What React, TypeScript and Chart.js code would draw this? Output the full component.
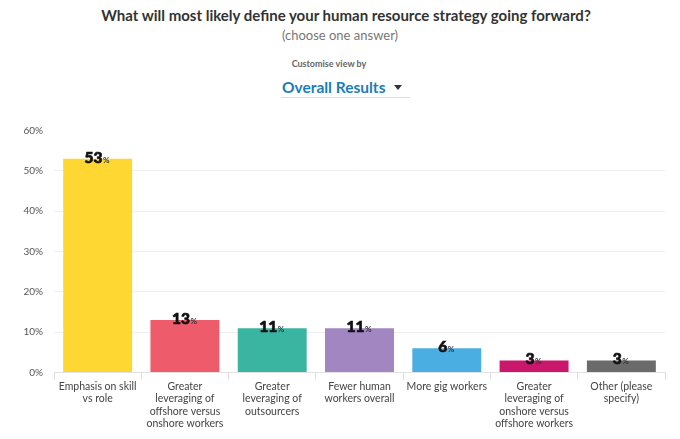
import React, { useEffect, useRef } from "react";
import { Chart, registerables } from "chart.js";

Chart.register(...registerables);

const categories: string[][] = [
  ["Emphasis on skill", "vs role"],
  ["Greater", "leveraging of", "offshore versus", "onshore workers"],
  ["Greater", "leveraging of", "outsourcers"],
  ["Fewer human", "workers overall"],
  ["More gig workers"],
  ["Greater", "leveraging of", "onshore versus", "offshore workers"],
  ["Other (please", "specify)"],
];
const values: number[] = [53, 13, 11, 11, 6, 3, 3];
const barColors: string[] = [
  "#FFD733",
  "#EE5B6A",
  "#3AB5A1",
  "#A186C1",
  "#4BAEE3",
  "#C9176B",
  "#6B6B6B",
];
const yTicks: number[] = [0, 10, 20, 30, 40, 50, 60];

const FONT = "Lato, 'Open Sans', sans-serif";

const valueLabelPlugin = {
  id: "valueLabels",
  afterDatasetsDraw(chart: any) {
    const ctx = chart.ctx;
    const meta = chart.getDatasetMeta(0);
    const data = chart.data.datasets[0].data as number[];
    meta.data.forEach((bar: any, i: number) => {
      const num = String(data[i]);
      ctx.save();
      ctx.textBaseline = "alphabetic";
      ctx.font = `900 15.5px ${FONT}`;
      const wNum = ctx.measureText(num).width;
      ctx.font = `700 8px ${FONT}`;
      const wPct = ctx.measureText("%").width;
      const total = wNum + wPct + 0.5;
      const x0 = bar.x - total / 2 - 0.5;
      const yb = bar.y + 4;
      ctx.fillStyle = "#111";
      ctx.strokeStyle = "#111";
      ctx.lineWidth = 0.7;
      ctx.font = `900 15.5px ${FONT}`;
      ctx.textAlign = "left";
      ctx.fillText(num, x0, yb);
      ctx.strokeText(num, x0, yb);
      ctx.fillStyle = "#333";
      ctx.font = `700 8px ${FONT}`;
      ctx.fillText("%", x0 + wNum + 0.5, yb);
      ctx.restore();
    });
  },
};

function BarChart() {
  const ref = useRef<HTMLCanvasElement | null>(null);
  useEffect(() => {
    if (!ref.current) return;
    const chart = new Chart(ref.current, {
      type: "bar",
      data: {
        labels: categories,
        datasets: [
          {
            data: values,
            backgroundColor: barColors,
            borderWidth: 0,
            categoryPercentage: 1,
            barPercentage: 0.79,
          },
        ],
      },
      options: {
        animation: false,
        responsive: false,
        maintainAspectRatio: false,
        devicePixelRatio: 1,
        layout: { padding: { top: 20.5, right: 15, left: 0, bottom: 0 } },
        plugins: {
          legend: { display: false },
          tooltip: { enabled: false },
          title: { display: false },
        },
        scales: {
          x: {
            offset: true,
            grid: {
              display: true,
              offset: true,
              drawOnChartArea: false,
              drawTicks: true,
              tickLength: 7,
              color: "#dcdcdc",
            },
            border: { display: true, color: "#e2e2e2" },
            ticks: {
              color: "#444",
              font: { family: FONT, size: 10.5, lineHeight: 1.17 },
              padding: 1,
              maxRotation: 0,
              autoSkip: false,
            },
            afterFit(scale: any) {
              scale.height = 66.5;
            },
          },
          y: {
            min: 0,
            max: 60,
            afterBuildTicks(scale: any) {
              scale.ticks = yTicks.map((v) => ({ value: v }));
            },
            grid: {
              drawTicks: false,
              color: (c: any) =>
                c.tick && (c.tick.value === 60 || c.tick.value === 0) ? "rgba(0,0,0,0)" : "#efefef",
              lineWidth: 1,
            },
            border: { display: false },
            ticks: {
              color: "#555",
              font: { family: FONT, size: 10 },
              padding: 11,
              callback: (v: any) => `${v}%`,
            },
            afterFit(scale: any) {
              scale.width = 54;
            },
          },
        },
      },
      plugins: [valueLabelPlugin],
    });
    return () => chart.destroy();
  }, []);
  return (
    <canvas
      ref={ref}
      width={680}
      height={329}
      style={{ position: "absolute", left: 0, top: 110, width: 680, height: 329 }}
    />
  );
}

export default function App() {
  const center: React.CSSProperties = {
    position: "absolute",
    left: 0,
    width: 680,
    textAlign: "center",
    fontFamily: FONT,
    whiteSpace: "nowrap",
  };
  return (
    <div
      style={{
        position: "fixed",
        left: 0,
        top: 0,
        width: 680,
        height: 439,
        background: "#fff",
        overflow: "hidden",
      }}
    >
      <div style={{ ...center, left: 6, top: 6, fontSize: 15, lineHeight: "18px", fontWeight: 700, color: "#333" }}>
        What will most likely define your human resource strategy going forward?
      </div>
      <div style={{ ...center, top: 27, fontSize: 13, lineHeight: "16px", color: "#777" }}>
        (choose one answer)
      </div>
      <div style={{ ...center, left: -11, top: 57.5, fontSize: 9, lineHeight: "11px", fontWeight: 700, color: "#666" }}>
        Customise view by
      </div>
      <div
        style={{
          position: "absolute",
          left: 282,
          top: 78,
          fontFamily: FONT,
          fontSize: 15.5,
          lineHeight: "18px",
          fontWeight: 700,
          color: "#1B7DB9",
          whiteSpace: "nowrap",
        }}
      >
        Overall Results
      </div>
      <div
        style={{
          position: "absolute",
          left: 394,
          top: 85,
          width: 0,
          height: 0,
          borderLeft: "4.5px solid transparent",
          borderRight: "4.5px solid transparent",
          borderTop: "5.5px solid #333",
        }}
      />
      <div
        style={{
          position: "absolute",
          left: 281,
          top: 97,
          width: 129,
          height: 1,
          background: "#dedede",
        }}
      />
      <BarChart />
    </div>
  );
}
